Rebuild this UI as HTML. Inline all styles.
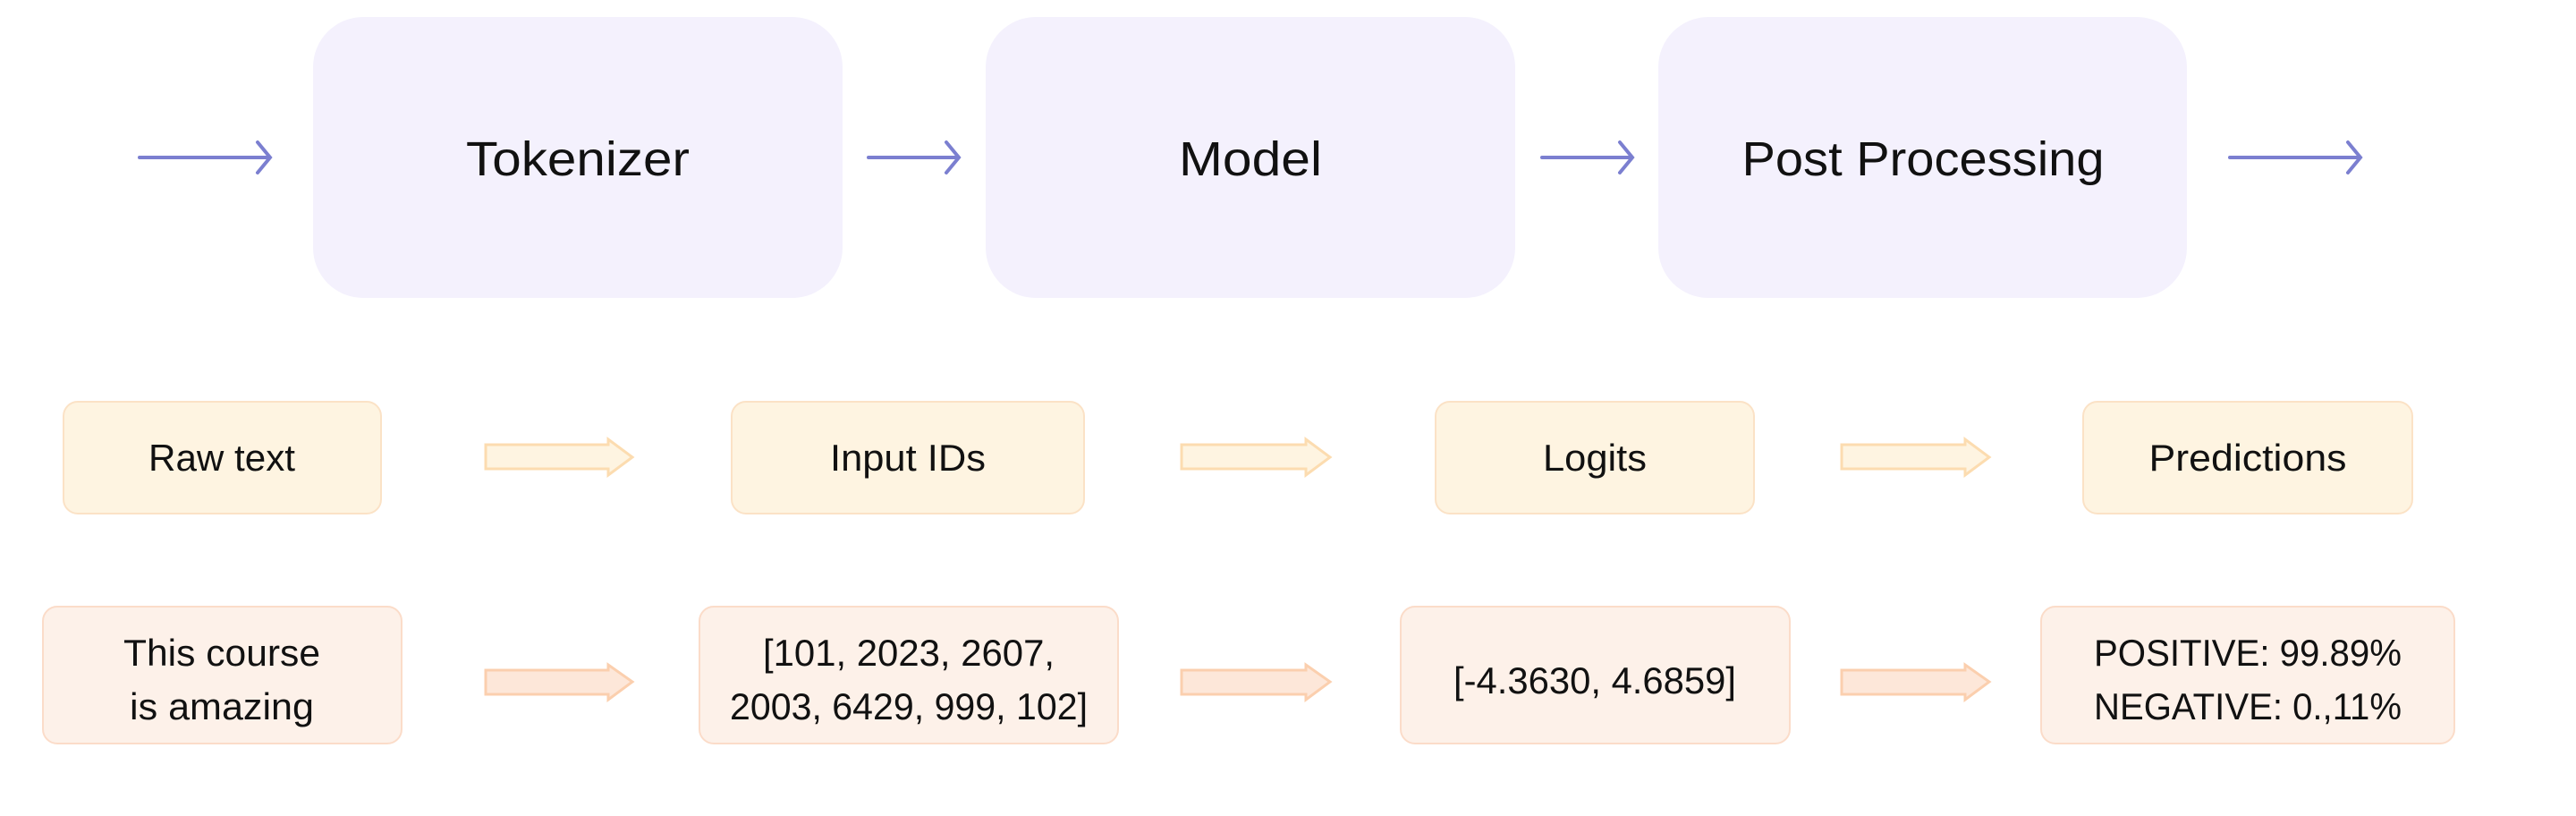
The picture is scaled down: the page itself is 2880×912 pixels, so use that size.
<!DOCTYPE html>
<html><head><meta charset="utf-8"><style>
html,body{margin:0;padding:0;background:#fff;}
svg{display:block}
text{font-family:"Liberation Sans",sans-serif;fill:#111;text-anchor:middle;}
</style></head><body>
<svg width="2880" height="912" viewBox="0 0 2880 912" xmlns="http://www.w3.org/2000/svg">
<g fill="#f4f1fd">
<rect x="350" y="19" width="592" height="314" rx="56"/>
<rect x="1102" y="19" width="592" height="314" rx="56"/>
<rect x="1854" y="19" width="591" height="314" rx="56"/>
</g>
<g font-size="54">
<text x="646" y="196" textLength="250" lengthAdjust="spacingAndGlyphs">Tokenizer</text>
<text x="1398" y="196" textLength="160" lengthAdjust="spacingAndGlyphs">Model</text>
<text x="2150" y="196" textLength="405" lengthAdjust="spacingAndGlyphs">Post Processing</text>
</g>
<g stroke="#7b7fd0" stroke-width="4" fill="none" stroke-linecap="round">
<path d="M156 176H301M288 159L302 176L288 193"/>
<path d="M971 176H1071M1058 159L1072 176L1058 193"/>
<path d="M1724 176H1824M1811 159L1825 176L1811 193"/>
<path d="M2493 176H2638M2625 159L2639 176L2625 193"/>
</g>
<g fill="#fef4e1" stroke="#fbe2c6" stroke-width="2">
<rect x="71" y="449" width="355" height="125" rx="16"/>
<rect x="818" y="449" width="394" height="125" rx="16"/>
<rect x="1605" y="449" width="356" height="125" rx="16"/>
<rect x="2329" y="449" width="368" height="125" rx="16"/>
</g>
<g fill="#fef4e1" stroke="#fcdcb0" stroke-width="3">
<path d="M543 497H680V491L707 511L680 531V524H543Z"/>
<path d="M1321 497H1460V491L1487 511L1460 531V524H1321Z"/>
<path d="M2059 497H1 2197V491L2224 511L2197 531V524H2059Z" display="none"/>
<path d="M2059 497H2197V491L2224 511L2197 531V524H2059Z"/>
</g>
<g font-size="42">
<text x="248" y="526" textLength="164" lengthAdjust="spacingAndGlyphs">Raw text</text>
<text x="1015" y="526" textLength="174" lengthAdjust="spacingAndGlyphs">Input IDs</text>
<text x="1783" y="526" textLength="116" lengthAdjust="spacingAndGlyphs">Logits</text>
<text x="2513" y="526" textLength="221" lengthAdjust="spacingAndGlyphs">Predictions</text>
</g>
<g fill="#fdf1e9" stroke="#fbdcc9" stroke-width="2">
<rect x="48" y="678" width="401" height="153" rx="16"/>
<rect x="782" y="678" width="468" height="153" rx="16"/>
<rect x="1566" y="678" width="435" height="153" rx="16"/>
<rect x="2282" y="678" width="462" height="153" rx="16"/>
</g>
<g fill="#fde7d9" stroke="#fbcfae" stroke-width="3">
<path d="M543 749H680V743L707 762L680 782V776H543Z"/>
<path d="M1321 749H1460V743L1487 762L1460 782V776H1321Z"/>
<path d="M2059 749H2197V743L2224 762L2197 782V776H2059Z"/>
</g>
<g font-size="42">
<text x="248" y="744" textLength="220" lengthAdjust="spacingAndGlyphs">This course</text>
<text x="248" y="804" textLength="206" lengthAdjust="spacingAndGlyphs">is amazing</text>
<text x="1016" y="744" textLength="326" lengthAdjust="spacingAndGlyphs">[101, 2023, 2607,</text>
<text x="1016" y="804" textLength="400" lengthAdjust="spacingAndGlyphs">2003, 6429, 999, 102]</text>
<text x="1783" y="775" textLength="316" lengthAdjust="spacingAndGlyphs">[-4.3630, 4.6859]</text>
<text x="2513" y="744" textLength="344" lengthAdjust="spacingAndGlyphs">POSITIVE: 99.89%</text>
<text x="2513" y="804" textLength="344" lengthAdjust="spacingAndGlyphs">NEGATIVE: 0.,11%</text>
</g>
</svg>
</body></html>
